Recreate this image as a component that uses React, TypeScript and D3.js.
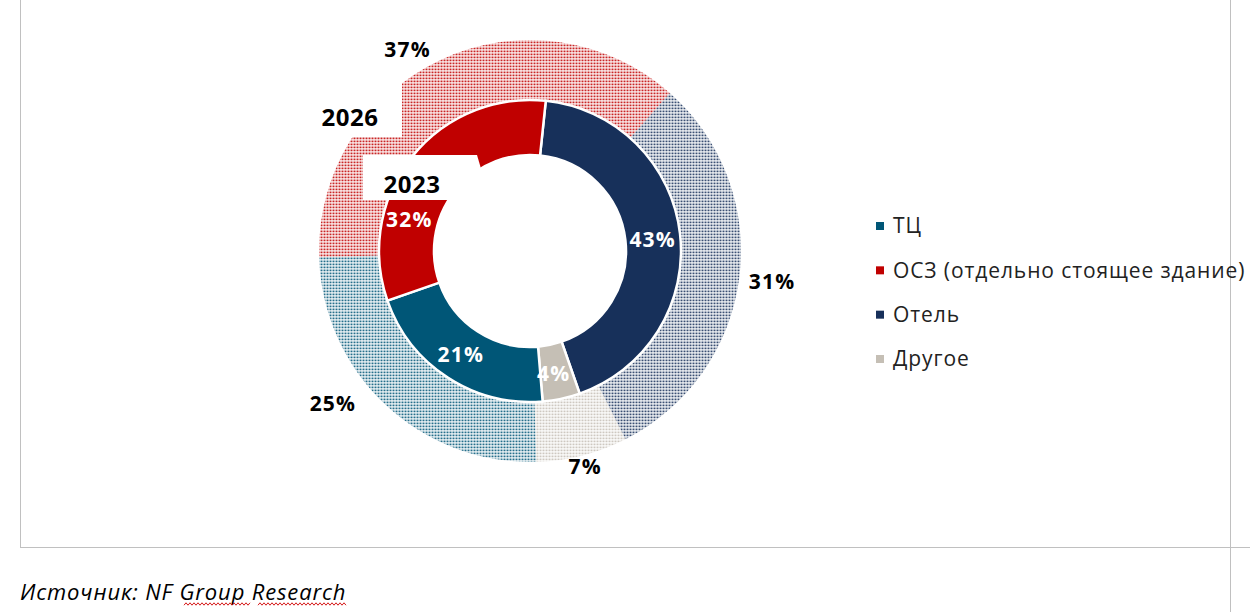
import React from 'react';
import * as d3 from 'd3';

// categories in drawing order (clockwise from the first slice)
const categories = ['Отель', 'Другое', 'ТЦ', 'ОСЗ'];
const colors = ['#17305a', '#c5bfb5', '#005677', '#c00000'];
const values2023 = [43, 4, 21, 32];
const values2026 = [31, 7, 25, 37];

// legend order as in the original
const legendLabels = ['ТЦ', 'ОСЗ (отдельно стоящее здание)', 'Отель', 'Другое'];
const legendColors = ['#005677', '#c00000', '#17305a', '#c5bfb5'];

const yearInner = '2023';
const yearOuter = '2026';
const sourcePlain = 'Источник: NF';
const sourceMarked = ['Group', 'Research'];

const width = 1250;
const height = 612;
const cx = 530;
const cy = 251;
const rHole = 96;
const rMid = 151;
const rOuter = 211;
const deg = Math.PI / 180;

// red wavy "spell-check" line
const wavy = (x0: number, x1: number, y: number) => {
  const pts: [number, number][] = [];
  for (let x = x0, k = 0; x <= x1; x += 2, k++) pts.push([x, y + (k % 2 ? -1.2 : 1.2)]);
  return d3.line()(pts) || '';
};

export default function App() {
  const pieInner = d3
    .pie<number>()
    .sort(null)
    .startAngle(6 * deg)
    .endAngle(6 * deg + 2 * Math.PI);
  const pieOuter = d3
    .pie<number>()
    .sort(null)
    .startAngle(41.5 * deg)
    .endAngle(41.5 * deg + 2 * Math.PI);

  const arcInner = d3.arc<d3.PieArcDatum<number>>().innerRadius(rHole).outerRadius(rMid);
  const arcOuter = d3.arc<d3.PieArcDatum<number>>().innerRadius(rMid).outerRadius(rOuter);

  const innerSlices = pieInner(values2023);
  const outerSlices = pieOuter(values2026);

  const polar = (a: number, r: number): [number, number] => [r * Math.sin(a), -r * Math.cos(a)];
  const mid = (s: d3.PieArcDatum<number>) => (s.startAngle + s.endAngle) / 2;

  // label nudges for slices where Excel moved labels by hand
  const innerNudge: [number, number][] = [[0, 3], [-2, 2], [-2, 0], [-24, 45]];
  const outerNudge: [number, number][] = [[0, 0], [1, 3], [-38, -16], [-24, 9]];
  const outerR = [244, 219, 232, 232];

  const legendY = d3.scalePoint<string>().domain(legendLabels).range([226, 359]);

  return (
    <svg
      width={width}
      height={height}
      style={{ position: 'absolute', left: 0, top: 0, background: '#fff' }}
      fontFamily="'Open Sans', sans-serif"
    >
      <defs>
        {colors.map((c, i) => (
          <pattern key={i} id={`dots${i}`} width={3} height={3} patternUnits="userSpaceOnUse">
            <rect x={0.5} y={0.5} width={2} height={1.8} fill={c} opacity={0.85} />
          </pattern>
        ))}
      </defs>

      {/* frame lines */}
      <line x1={20.5} y1={0} x2={20.5} y2={547} stroke="#c0c0c0" strokeWidth={1} />
      <line x1={20} y1={547.5} x2={1250} y2={547.5} stroke="#c0c0c0" strokeWidth={1} />
      <line x1={1230.5} y1={0} x2={1230.5} y2={612} stroke="#c0c0c0" strokeWidth={1} />

      <g transform={`translate(${cx},${cy})`}>
        {/* 2026 outer ring, dotted */}
        {outerSlices.map((s, i) => (
          <path key={i} d={arcOuter(s) || ''} fill={`url(#dots${i})`} />
        ))}
        {/* 2023 inner ring, solid */}
        {innerSlices.map((s, i) => (
          <path key={i} d={arcInner(s) || ''} fill={colors[i]} stroke="#fff" strokeWidth={2.5} />
        ))}
      </g>

      {/* white label boxes for year callouts */}
      <rect x={296} y={58} width={106} height={79} fill="#fff" />
      <polygon points="363,155 477,155 482,172 482,200 363,200" fill="#fff" />
      <text x={350} y={126} fontSize={24} fontWeight={700} textAnchor="middle" fill="#000" letterSpacing={0.5}>
        {yearOuter}
      </text>
      <text x={412} y={193} fontSize={24} fontWeight={700} textAnchor="middle" fill="#000" letterSpacing={0.5}>
        {yearInner}
      </text>

      <g transform={`translate(${cx},${cy})`}>
        {innerSlices.map((s, i) => {
          const [x, y] = polar(mid(s), (rHole + rMid) / 2);
          return (
            <text
              key={i}
              x={x + innerNudge[i][0]}
              y={y + innerNudge[i][1]}
              dy="0.35em"
              fontSize={21}
              fontWeight={700}
              letterSpacing={1.2}
              fill="#fff"
              textAnchor="middle"
            >
              {values2023[i]}%
            </text>
          );
        })}
        {outerSlices.map((s, i) => {
          const [x, y] = polar(mid(s), outerR[i]);
          return (
            <text
              key={i}
              x={x + outerNudge[i][0]}
              y={y + outerNudge[i][1]}
              dy="0.35em"
              fontSize={21}
              fontWeight={700}
              letterSpacing={1.2}
              fill="#000"
              textAnchor="middle"
            >
              {values2026[i]}%
            </text>
          );
        })}
      </g>

      {/* legend */}
      {legendLabels.map((l, i) => (
        <g key={l} transform={`translate(876,${legendY(l)})`}>
          <rect x={0} y={-4} width={8} height={8} fill={legendColors[i]} />
          <text x={17} dy="0.35em" fontSize={21} letterSpacing={0.9} fill="#222">
            {l}
          </text>
        </g>
      ))}

      {/* source */}
      <text x={20} y={600} fontSize={22} fontStyle="italic" letterSpacing={0.85} fill="#000">
        {sourcePlain} {sourceMarked.join(' ')}
      </text>
      <path d={wavy(184, 250, 604)} fill="none" stroke="#d00000" strokeWidth={0.9} />
      <path d={wavy(258, 346, 604)} fill="none" stroke="#d00000" strokeWidth={0.9} />
    </svg>
  );
}
